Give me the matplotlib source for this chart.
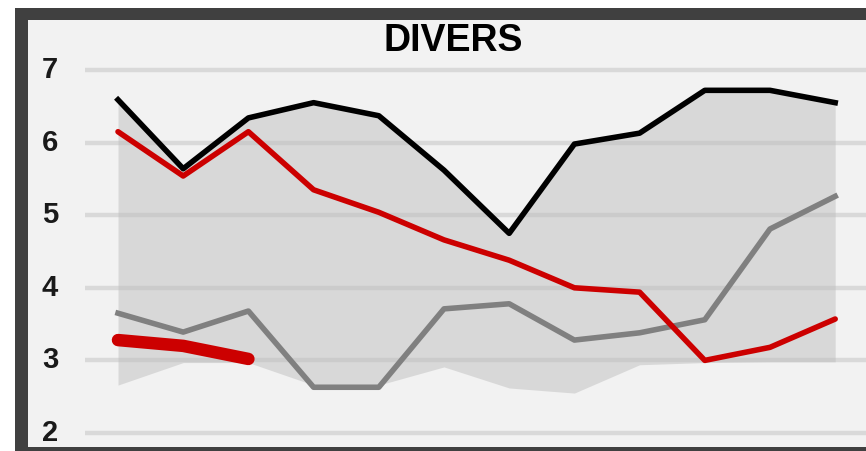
import numpy as np
import matplotlib
matplotlib.use("Agg")
import matplotlib.pyplot as plt
from matplotlib.patches import Rectangle

plt.rcParams['font.family'] = ['Liberation Sans', 'DejaVu Sans']

title = 'DIVERS'
yticks = [2, 3, 4, 5, 6, 7]

# values, 12 periods
black_vals = [6.59, 5.64, 6.34, 6.55, 6.37, 5.62, 4.75, 5.98, 6.13, 6.72, 6.72, 6.55]
red_vals = [6.15, 5.54, 6.15, 5.35, 5.04, 4.66, 4.38, 4.00, 3.94, 3.00, 3.18, 3.57]
gray_vals = [3.65, 3.39, 3.68, 2.63, 2.63, 3.71, 3.78, 3.28, 3.38, 3.56, 4.81, 5.26]
recent_vals = [3.28, 3.20, 3.02]
band_low = [2.66, 2.97, 2.97, 2.66, 2.66, 2.91, 2.62, 2.55, 2.94, 2.97, 2.98, 2.98]
band_high = black_vals

W, H = 866, 451
fig = plt.figure(figsize=(W / 100, H / 100), dpi=100)

# background frame in pixel coordinates
bg = fig.add_axes([0, 0, 1, 1])
bg.set_xlim(0, W)
bg.set_ylim(H, 0)
bg.axis('off')
bg.add_patch(Rectangle((15, 8), W, H, color='#404040', lw=0))
bg.add_patch(Rectangle((28, 20), W, 427, color='#f2f2f2', lw=0))

# data axes: 7 -> 70px, 2 -> 433px; x0 -> 118px, step 65.2px
ax = fig.add_axes([0, 0, 1, 1])
ax.patch.set_alpha(0)
ax.axis('off')
px_unit = (433 - 70) / 5
ax.set_ylim(7 - (H - 70) / px_unit, 7 + 70 / px_unit)
step = 65.2
ax.set_xlim(-118 / step, (W - 118) / step)

x = np.arange(len(black_vals))
ax.hlines(yticks, -0.5, 12, color='#d9d9d9', lw=3.2, zorder=1)
ax.fill_between(x, band_low, band_high, color='#bfbfbf', alpha=0.5, lw=0, zorder=2)
ax.plot(x, gray_vals, color='#808080', lw=4, zorder=3)
ax.plot(x, black_vals, color='black', lw=4, zorder=4)
ax.plot(x, red_vals, color='#cc0000', lw=4, solid_capstyle='round', zorder=5)
ax.plot(x[:len(recent_vals)], recent_vals, color='#cc0000', lw=9, solid_capstyle='round', zorder=6)

for v in yticks:
    ax.text(50 / W, v, str(v), transform=ax.get_yaxis_transform(),
            ha='center', va='center', fontsize=21, fontweight='bold', color='#1a1a1a')

fig.text(453 / W, 1 - 41 / H, title, ha='center', va='center',
         fontsize=27, fontweight='bold', color='black')

fig.savefig('out.png', dpi=100)
